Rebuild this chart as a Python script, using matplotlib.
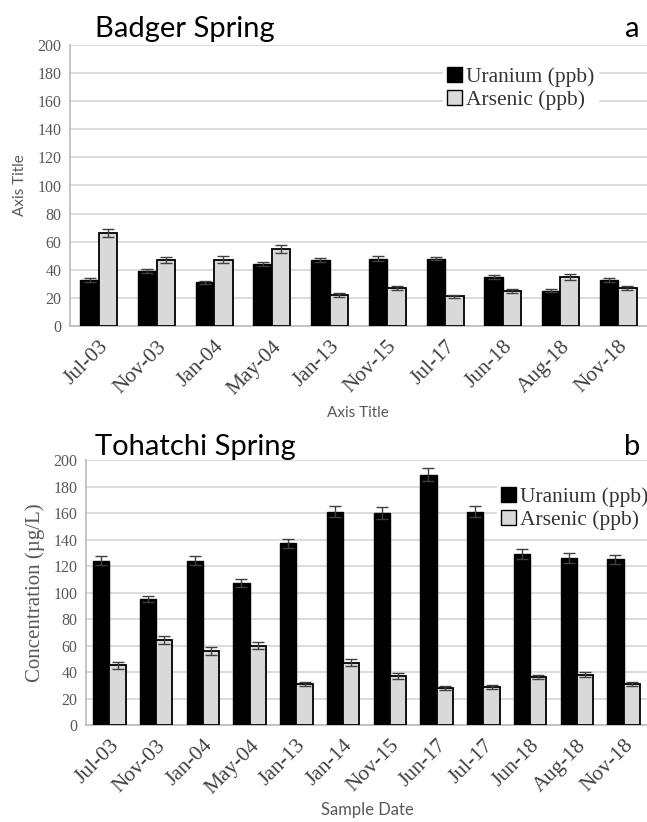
import matplotlib
matplotlib.use("Agg")
import matplotlib.pyplot as plt
import numpy as np
from matplotlib.patches import Patch

# ---- data ----
badger_dates = ["Jul-03", "Nov-03", "Jan-04", "May-04", "Jan-13", "Nov-15",
                "Jul-17", "Jun-18", "Aug-18", "Nov-18"]
badger_u = [33, 39, 31, 44, 47, 48, 48, 35, 25, 33]
badger_u_err = [1.5, 1.5, 1.2, 1.5, 1.5, 1.5, 1.2, 1.2, 1.0, 1.5]
badger_as = [66, 47, 47, 55, 22, 27, 21, 25, 35, 27]
badger_as_err = [3.0, 2.2, 2.5, 3.0, 1.2, 1.2, 1.2, 1.2, 2.0, 1.2]

toh_dates = ["Jul-03", "Nov-03", "Jan-04", "May-04", "Jan-13", "Jan-14", "Nov-15",
             "Jun-17", "Jul-17", "Jun-18", "Aug-18", "Nov-18"]
toh_u = [124, 95, 124, 107, 137, 161, 160, 189, 161, 129, 126, 125]
toh_u_err = [3.5, 2.5, 3.5, 3.0, 3.5, 4.0, 4.5, 5.0, 4.0, 3.5, 3.5, 3.5]
toh_as = [45, 64, 56, 60, 31, 47, 37, 28, 29, 36, 38, 31]
toh_as_err = [2.5, 3.0, 3.0, 3.0, 1.5, 2.5, 2.0, 1.5, 1.5, 1.5, 2.0, 1.8]

yticks = [0, 20, 40, 60, 80, 100, 120, 140, 160, 180, 200]

W, H = 647, 822
fig = plt.figure(figsize=(W / 100, H / 100), dpi=100)

serif = ["Liberation Serif", "DejaVu Serif"]
sans = ["Lato", "DejaVu Sans"]
grid_c = "#d9d9d9"
txt_c = "#595959"
err_c = "#404040"
gray_bar = "#d9d9d9"


def panel(ax, dates, u, ue, a, ae, bw):
    x = np.arange(len(dates))
    ax.bar(x - bw / 2, u, bw, color="black", edgecolor="black", linewidth=1.0,
           yerr=ue, error_kw=dict(ecolor=err_c, elinewidth=1.0, capsize=4.5, capthick=1.0), zorder=3)
    ax.bar(x + bw / 2, a, bw, color=gray_bar, edgecolor="black", linewidth=1.3,
           yerr=ae, error_kw=dict(ecolor=err_c, elinewidth=1.0, capsize=4.5, capthick=1.0), zorder=3)
    ax.set_xlim(-0.5, len(dates) - 0.5)
    ax.set_ylim(0, 200)
    ax.set_yticks(yticks)
    ax.set_yticklabels([str(v) for v in yticks], family=serif, fontsize=11.5, color=txt_c)
    ax.set_xticks(x)
    ax.set_xticklabels(dates, rotation=45, ha="right", rotation_mode="anchor",
                       family=serif, fontsize=15.5, color="#404040")
    ax.tick_params(axis="both", length=0)
    ax.tick_params(axis="x", pad=8)
    ax.tick_params(axis="y", pad=6)
    ax.yaxis.grid(True, color=grid_c, linewidth=1.3, zorder=0)
    ax.set_axisbelow(True)
    for s in ["top", "right"]:
        ax.spines[s].set_visible(False)
    for s in ["left", "bottom"]:
        ax.spines[s].set_color("#bfbfbf")
        ax.spines[s].set_linewidth(1.3)


def legend(ax, x0, y0):
    handles = [Patch(facecolor="black", edgecolor="black", linewidth=1.0),
               Patch(facecolor=gray_bar, edgecolor="black", linewidth=1.0)]
    lg = ax.legend(handles, ["Uranium (ppb)", "Arsenic (ppb)"], loc="upper left",
                   bbox_to_anchor=(x0 / W, 1 - y0 / H), bbox_transform=fig.transFigure,
                   prop=dict(family=serif, size=15.5), frameon=True, fancybox=False,
                   edgecolor="white", facecolor="white", framealpha=1.0,
                   handlelength=0.7, handleheight=0.7, handletextpad=0.15,
                   labelspacing=0.12, borderpad=0.2, borderaxespad=0)
    for t in lg.get_texts():
        t.set_color("#333333")
    lg.set_zorder(5)


# top panel
ax1 = fig.add_axes([70 / W, 1 - 326 / H, (W - 70) / W, (326 - 45) / H])
panel(ax1, badger_dates, badger_u, badger_u_err, badger_as, badger_as_err, 0.32)
ax1.set_ylabel("Axis Title", family=sans, fontsize=11, color=txt_c, labelpad=8)
fig.text(358 / W, 1 - 413 / H, "Axis Title", family=sans, fontsize=11, color=txt_c,
         ha="center", va="center")
legend(ax1, 443, 63)

# bottom panel
ax2 = fig.add_axes([86 / W, 1 - 725 / H, (W - 86) / W, (725 - 460) / H])
panel(ax2, toh_dates, toh_u, toh_u_err, toh_as, toh_as_err, 0.35)
ax2.set_ylabel("Concentration (µg/L)", family=serif, fontsize=15, color=txt_c, labelpad=6)
fig.text(367 / W, 1 - 810 / H, "Sample Date", family=sans, fontsize=12, color=txt_c,
         ha="center", va="center")
legend(ax2, 497, 483)

# titles and panel letters
fig.text(95 / W, 1 - 37 / H, "Badger Spring", family=sans, fontsize=21, color="black", va="baseline")
fig.text(640 / W, 1 - 37 / H, "a", family=sans, fontsize=21, color="black", va="baseline", ha="right")
fig.text(95 / W, 1 - 455 / H, "Tohatchi Spring", family=sans, fontsize=21, color="black", va="baseline")
fig.text(640 / W, 1 - 455 / H, "b", family=sans, fontsize=21, color="black", va="baseline", ha="right")

fig.savefig("out.png", dpi=100, facecolor="white")
